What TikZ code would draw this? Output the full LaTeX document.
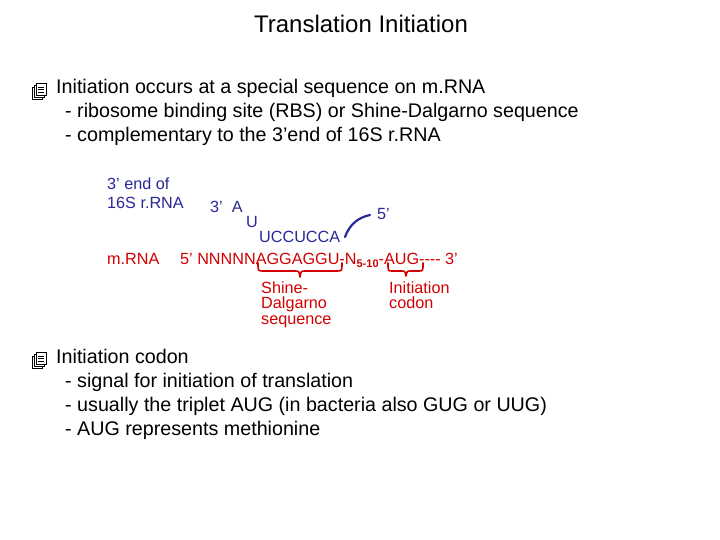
\documentclass[tikz,border=0pt]{standalone}
\usepackage{fontspec}
\setmainfont{Liberation Sans}
\definecolor{dblue}{RGB}{40,40,150}
\definecolor{dred}{RGB}{210,0,0}
\begin{document}
\begin{tikzpicture}[x=1pt,y=-1pt,
  txt/.style={anchor=base west,inner sep=0pt,font=\fontsize{19.7}{21}\selectfont},
  sm/.style={anchor=base west,inner sep=0pt,font=\fontsize{16.2}{16}\selectfont},
  bl/.style={sm,text=dblue},
  rd/.style={sm,text=dred},
  brace/.style={draw=dred,line width=1.6pt,line cap=round,line join=round}]
\useasboundingbox (0,0) rectangle (720,540);
\node[txt,anchor=base,font=\fontsize{24}{26}\selectfont] (title) at (361,33) {Translation Initiation};
\newcommand{\pageicon}[2]{%
  \foreach \d in {0,2,4}{\draw[fill=white,line width=0.6pt] (#1+\d,#2-\d) rectangle +(10,-12);}
  \foreach \yy in {3,5.5,8}{\draw[line width=0.5pt] (#1+6,#2-4-\yy) -- +(6,0);}}
\pageicon{32}{99}
\node[txt] (l1) at (56,94) {Initiation occurs at a special sequence on m.RNA};
\node[txt] (l2) at (65,118) {- ribosome binding site (RBS) or Shine-Dalgarno sequence};
\node[txt] (l3) at (65,142) {- complementary to the 3’end of 16S r.RNA};
\node[bl] (e1) at (107,190) {3’ end of};
\node[bl] (e2) at (107,208) {16S r.RNA};
\node[bl] (a) at (210,213) {3’\ \ A};
\node[bl] (u) at (246,228) {U};
\node[bl] (uc) at (259,243) {UCCUCCA};
\node[bl] (f5) at (377,219) {5’};
\draw[dblue,line width=2.2pt,line cap=round] (345,237) .. controls (350,223) and (360,217) .. (370,215);
\node[rd] (m) at (107,264) {m.RNA};
\node[rd] (seq) at (180,264) {5’ NNNNNAGGAGGU-N\raisebox{-3pt}{\fontsize{11}{11}\selectfont\bfseries 5-10}-AUG-{}-{}-{}- 3’};
\draw[brace] (258,263) .. controls (258,271) .. (263,271) -- (295,271) .. controls (299,271) .. (300,277) .. controls (301,271) .. (305,271) -- (337,271) .. controls (342,271) .. (342,263);
\draw[brace] (388,263) .. controls (388,271) .. (392,271) -- (401,271) .. controls (405,271) .. (406,276) .. controls (407,271) .. (411,271) -- (419,271) .. controls (423,271) .. (423,263);
\node[rd] (sd1) at (261,293) {Shine-};
\node[rd] (sd2) at (261,308) {Dalgarno};
\node[rd] (sd3) at (261,324) {sequence};
\node[rd] (ic1) at (389,293) {Initiation};
\node[rd] (ic2) at (389,308) {codon};
\pageicon{32}{368}
\node[txt] (b1) at (56,363) {Initiation codon};
\node[txt] (b2) at (65,387) {- signal for initiation of translation};
\node[txt] (b3) at (65,411) {- usually the triplet AUG (in bacteria also GUG or UUG)};
\node[txt] (b4) at (65,435) {- AUG represents methionine};
\end{tikzpicture}
\end{document}
